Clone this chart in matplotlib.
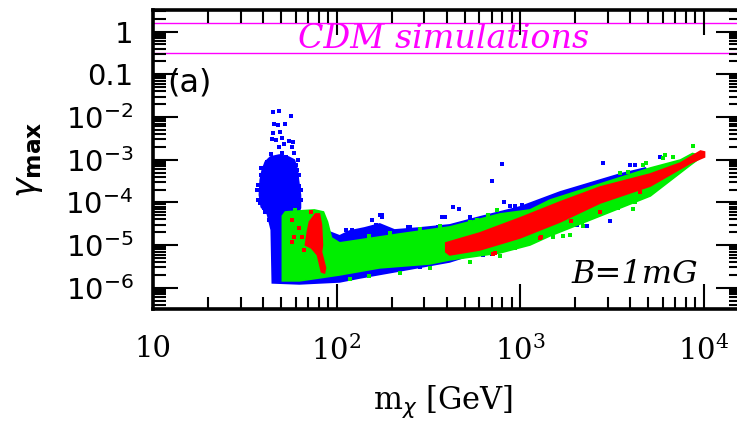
import numpy as np
import matplotlib.pyplot as plt
from matplotlib.ticker import LogLocator, FixedLocator, FuncFormatter, NullFormatter

# dense parts of the scan, traced as outlines (m_chi in GeV, gamma_max)
blue_core_m = [44.7, 44.1, 42.0, 38.9, 38.0, 38.4, 39.4, 40.9, 43.6, 48.8, 54.7, 58.9,
               61.2, 62.0, 63.6, 63.6, 61.2, 91.5, 104, 118, 142, 172, 207, 284, 414,
               604, 1000, 1654, 2413, 3519, 4820, 5133, 5133, 2736, 1458, 778, 414,
               221, 134, 104, 62.8]
blue_core_g = [1.31e-6, 2.27e-5, 5.38e-5, 7.85e-5, 1.50e-4, 3.36e-4, 5.76e-4, 8.86e-4,
               1.16e-3, 1.29e-3, 1.16e-3, 9.87e-4, 5.76e-4, 3.36e-4, 1.50e-4, 7.43e-5,
               5.10e-5, 2.04e-5, 1.65e-5, 2.15e-5, 2.53e-5, 3.14e-5, 2.27e-5, 2.53e-5,
               2.98e-5, 4.58e-5, 7.85e-5, 1.76e-4, 2.86e-4, 4.64e-4, 6.41e-4, 4.40e-4,
               1.96e-4, 8.74e-5, 2.53e-5, 9.61e-6, 4.06e-6, 2.50e-6, 1.71e-6, 1.38e-6,
               1.24e-6]

green_core_m = [50.7, 52.6, 62.8, 75.8, 84.9, 89.3, 93.9, 104, 134, 221, 414, 778, 1134,
                1458, 2736, 5133, 7487, 8709, 9874, 8492, 5133, 2736, 1458, 1134, 778,
                414, 322, 172, 104, 80.7, 62.8, 50.7]
green_core_g = [4.83e-5, 5.99e-5, 6.33e-5, 6.68e-5, 5.99e-5, 3.50e-5, 1.48e-5, 1.13e-5,
                1.33e-5, 1.83e-5, 2.67e-5, 5.38e-5, 6.68e-5, 1.14e-4, 2.71e-4, 6.41e-4,
                9.87e-4, 1.40e-3, 1.22e-3, 7.54e-4, 1.42e-4, 4.83e-5, 1.65e-5, 1.01e-5,
                6.59e-6, 4.52e-6, 3.64e-6, 2.94e-6, 2.01e-6, 1.71e-6, 1.46e-6, 1.46e-6]

red_band_m = [394, 604, 1000, 1654, 2736, 5133, 7487, 9630, 10126, 10126, 8492, 5133,
              2736, 1654, 1000, 604, 414, 394]
red_band_g = [1.13e-5, 1.93e-5, 4.34e-5, 1.03e-4, 2.30e-4, 4.64e-4, 8.39e-4, 1.60e-3,
              1.52e-3, 1.16e-3, 8.39e-4, 2.43e-4, 9.73e-5, 3.50e-5, 1.48e-5, 7.74e-6,
              5.91e-6, 6.95e-6]

red_streak_m = [71.2, 76.8, 80.7, 82.8, 83.8, 82.8, 87.1, 86.0, 82.8, 78.7, 73.0, 67.7, 69.4]
red_streak_g = [3.50e-5, 5.38e-5, 5.38e-5, 2.98e-5, 1.01e-5, 6.95e-6, 2.94e-6, 2.24e-6,
                2.37e-6, 5.91e-6, 8.62e-6, 1.01e-5, 2.04e-5]

# isolated models and ragged edges around the dense regions
blue_pts_m = [45.3, 48.8, 56.8, 45.8, 48.2, 52.6, 45.3, 49.4, 44.7, 47.0, 50.7, 52.0, 55.4,
              58.2, 48.8, 57.5, 44.1, 50.7, 53.3, 58.9, 42.0, 47.0, 37.0, 37.5, 40.4, 38.9,
              61.2, 62.8, 64.4, 62.0, 40.9, 43.0, 68.6, 73.0, 62.8, 113, 122, 157, 172,
              161, 183, 176, 165, 244, 215, 375, 389, 431, 464, 533, 703, 797, 818, 939,
              882, 1025, 2842, 3992, 4250, 5821, 4820, 4527, 3104, 2323, 2049, 703, 628,
              686, 176, 251, 284, 356, 139, 284, 221,
              38.9, 37.5, 39.4, 38.4, 40.4, 62.8, 64.4, 61.2, 65.2, 60.4]
blue_pts_g = [1.31e-2, 1.38e-2, 1.06e-2, 6.86e-3, 6.50e-3, 6.86e-3, 4.22e-3, 4.46e-3,
              3.06e-3, 2.90e-3, 3.23e-3, 2.34e-3, 2.75e-3, 2.60e-3, 1.99e-3, 1.99e-3,
              1.36e-3, 1.44e-3, 1.16e-3, 1.44e-3, 8.86e-4, 1.10e-3, 1.96e-4, 1.14e-4,
              8.74e-5, 6.41e-4, 5.76e-4, 2.43e-4, 1.14e-4, 9.87e-4, 5.99e-5, 3.90e-5,
              5.68e-5, 4.58e-5, 4.34e-5, 2.27e-5, 2.27e-5, 3.90e-5, 5.10e-5, 2.67e-5,
              2.53e-5, 5.10e-5, 2.98e-5, 2.67e-5, 1.74e-5, 4.58e-5, 4.58e-5, 7.85e-5,
              7.05e-5, 4.58e-5, 3.18e-4, 7.95e-4, 1.03e-4, 8.28e-5, 8.28e-5, 8.74e-5,
              8.39e-4, 7.54e-4, 7.54e-4, 1.16e-3, 1.67e-4, 1.96e-4, 3.69e-5, 2.82e-5,
              2.98e-5, 6.24e-6, 5.91e-6, 6.59e-6, 4.58e-5, 2.67e-5, 2.40e-5, 2.67e-5,
              2.01e-6, 3.10e-6, 3.10e-6,
              4.40e-4, 2.57e-4, 1.76e-4, 9.73e-5, 7.43e-5, 4.40e-4, 1.96e-4, 8.74e-5,
              5.99e-5, 7.54e-4]

green_pts_m = [8709, 6198, 6857, 6045, 4882, 4700, 3893, 3519, 4250, 3893, 4145, 3432, 3104,
               2736, 2182, 2210, 1876, 1718, 1515, 1178, 1000, 915, 939, 582, 669, 749,
               1697, 78.7, 59.7,
               151, 195, 284, 365, 533, 118, 151, 221, 322, 533, 778]
green_pts_g = [2.10e-3, 1.29e-3, 1.16e-3, 1.10e-3, 8.39e-4, 7.54e-4, 5.17e-4, 4.90e-4,
               1.03e-4, 1.14e-4, 7.05e-5, 7.43e-5, 6.68e-5, 6.33e-5, 3.50e-5, 2.82e-5,
               1.74e-5, 1.65e-5, 1.56e-5, 1.26e-5, 1.13e-5, 9.10e-6, 8.62e-6, 3.90e-5,
               5.10e-5, 6.68e-5, 3.50e-5, 5.68e-5, 6.68e-5,
               1.65e-5, 1.93e-5, 2.40e-5, 2.82e-5, 3.50e-5, 1.62e-6, 1.91e-6, 2.24e-6,
               2.94e-6, 4.06e-6, 5.60e-6]

red_pts_m = [4527, 1900, 1302, 712, 730, 2736, 1286, 57.5, 58.9, 57.5, 65.2, 66.9, 73.0,
             77.7, 62.8]
red_pts_g = [1.76e-4, 3.69e-5, 1.56e-5, 6.24e-6, 6.59e-6, 5.99e-5, 1.48e-5, 3.90e-5,
             1.56e-5, 1.19e-5, 1.56e-5, 7.74e-6, 5.99e-5, 4.83e-5, 2.53e-5]

# CDM simulation band
cdm_band = [0.31, 1.6]

BLUE, GREEN, RED, MAG = '#0000ff', '#00ee00', '#ff0000', '#ff00ff'

fig = plt.figure(figsize=(7.37, 4.28), dpi=100)
ax = fig.add_axes([0.2076, 0.2780, 0.7978, 0.6986])
ax.set_xscale('log')
ax.set_yscale('log')
ax.set_xlim(10, 1.6e4)
ax.set_ylim(3.2e-7, 3.2)

for (cm, cg, pm, pg, col, z) in [(blue_core_m, blue_core_g, blue_pts_m, blue_pts_g, BLUE, 2),
                                 (green_core_m, green_core_g, green_pts_m, green_pts_g, GREEN, 3),
                                 (red_band_m, red_band_g, red_pts_m, red_pts_g, RED, 4)]:
    ax.fill(cm, cg, color=col, lw=1.2, zorder=z)
    ax.scatter(pm, pg, s=6, marker='s', color=col, lw=0, zorder=z)
ax.fill(red_streak_m, red_streak_g, color=RED, lw=1.2, zorder=4)

for yv in cdm_band:
    ax.axhline(yv, color=MAG, lw=1.0, zorder=1)

ax.text(0.495, 0.903, 'CDM simulations', transform=ax.transAxes, ha='center', va='center',
        color=MAG, fontsize=24, family='DejaVu Serif', style='italic')
ax.text(0.024, 0.756, '(a)', transform=ax.transAxes, ha='left', va='center',
        fontsize=23, family='DejaVu Sans')
ax.text(0.927, 0.117, 'B=1mG', transform=ax.transAxes, ha='right', va='center',
        fontsize=23, family='DejaVu Serif', style='italic')

# ticks
ax.xaxis.set_major_locator(FixedLocator([10, 100, 1000, 10000]))
ax.xaxis.set_minor_locator(LogLocator(base=10, subs=np.arange(2, 10), numticks=50))
ax.yaxis.set_major_locator(FixedLocator([1e-6, 1e-5, 1e-4, 1e-3, 1e-2, 0.1, 1]))
ax.yaxis.set_minor_locator(LogLocator(base=10, subs=np.arange(2, 10), numticks=50))
ax.xaxis.set_minor_formatter(NullFormatter())
ax.yaxis.set_minor_formatter(NullFormatter())


def xfmt(v, pos):
    e = int(round(np.log10(v)))
    return '10' if e == 1 else r'$\mathregular{10^{%d}}$' % e


def yfmt(v, pos):
    e = int(round(np.log10(v)))
    if e == 0:
        return '1'
    if e == -1:
        return '0.1'
    return r'$\mathregular{10^{%d}}$' % e


ax.xaxis.set_major_formatter(FuncFormatter(xfmt))
ax.yaxis.set_major_formatter(FuncFormatter(yfmt))

ax.tick_params(which='both', direction='in', top=True, right=True, width=1.5, color='black')
ax.tick_params(which='major', length=18)
ax.tick_params(which='minor', length=9)
ax.tick_params(axis='x', which='major', pad=19, labelsize=21)
ax.tick_params(axis='y', which='major', pad=14, labelsize=21)
for lab in ax.get_xticklabels():
    lab.set_family('DejaVu Serif')
for lab in ax.get_yticklabels():
    lab.set_family('DejaVu Sans')
for sp in ax.spines.values():
    sp.set_linewidth(2.6)

ax.set_xlabel(r'm$_{\chi}$ [GeV]', family='DejaVu Serif', fontsize=22)
ax.xaxis.set_label_coords(0.493, -0.25)
ax.set_ylabel(r'$\gamma_{\mathbf{max}}$', fontsize=24)
ax.yaxis.set_label_coords(-0.184, 0.5)

fig.savefig('out.png', dpi=100)
